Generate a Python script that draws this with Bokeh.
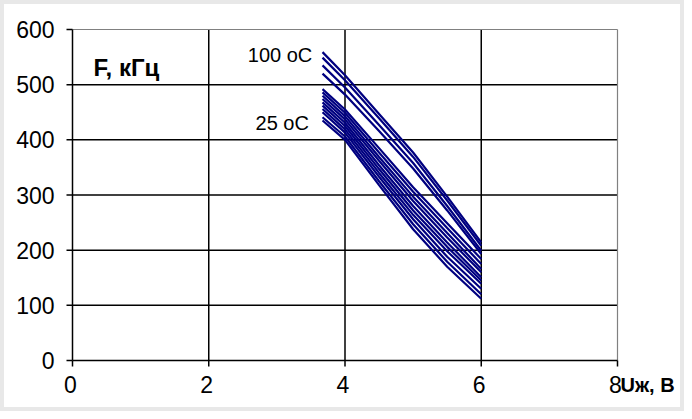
from bokeh.plotting import figure
from bokeh.models import Label, Range1d
from bokeh.core.properties import value
from bokeh.embed import file_html
from bokeh.resources import INLINE

# Control voltage (V) sample points
u_volts = [3.67, 4.0, 4.5, 5.0, 5.5, 6.0]

# Frequency curves (kHz), family from 100 oC (highest) down to 25 oC (lowest)
f_curve_01 = [559, 517, 447, 377, 297, 214]
f_curve_02 = [549, 508, 439, 369, 290, 208]
f_curve_03 = [535, 495, 427, 358, 280, 199]
f_curve_04 = [520, 482, 416, 348, 272, 193]
f_curve_05 = [492, 455, 385, 314, 249, 184]
f_curve_06 = [486, 449, 377, 306, 240, 175]
f_curve_07 = [480, 443, 369, 297, 231, 166]
f_curve_08 = [474, 437, 362, 289, 223, 160]
f_curve_09 = [468, 431, 354, 280, 214, 151]
f_curve_10 = [462, 425, 347, 272, 206, 145]
f_curve_11 = [456, 419, 340, 264, 198, 139]
f_curve_12 = [450, 413, 333, 256, 188, 130]
f_curve_13 = [441, 406, 325, 247, 179, 120]
f_curve_14 = [435, 400, 318, 238, 170, 112]

curves = [f_curve_01, f_curve_02, f_curve_03, f_curve_04, f_curve_05, f_curve_06,
          f_curve_07, f_curve_08, f_curve_09, f_curve_10, f_curve_11, f_curve_12,
          f_curve_13, f_curve_14]

x_ticks = [0, 2, 4, 6, 8]
x_tick_labels = ["0", "2", "4", "6", "8"]
y_ticks = [0, 100, 200, 300, 400, 500, 600]
y_tick_labels = ["0", "100", "200", "300", "400", "500", "600"]
x_grid = [2, 4, 6]
y_grid = [100, 200, 300, 400, 500]

X_MIN, X_MAX = 0, 8
Y_MIN, Y_MAX = 0, 600

FONT = "Liberation Sans"

# Frame fills the whole canvas; axes are drawn with the plot's own scales
PX_X = 68.125      # pixels per volt
PX_Y = 331 / 600   # pixels per kHz
p = figure(width=684, height=411,
           x_range=Range1d(-68 / PX_X, 616 / PX_X),
           y_range=Range1d(-55 / PX_Y, 600 + 25 / PX_Y),
           output_backend="svg", toolbar_location=None,
           x_axis_location=None, y_axis_location=None,
           min_border=0)
p.styles = {"border": "4px solid #e8e8e8"}
p.background_fill_color = "white"
p.border_fill_color = "white"
p.outline_line_color = None
p.grid.visible = False

TX = 6 / PX_X   # tick length in x units
TY = 6 / PX_Y   # tick length in y units

# grid lines
p.segment(x0=x_grid, y0=[Y_MIN] * len(x_grid), x1=x_grid, y1=[Y_MAX] * len(x_grid),
          line_color="black", line_width=1.5)
p.segment(x0=[X_MIN] * len(y_grid), y0=y_grid, x1=[X_MAX] * len(y_grid), y1=y_grid,
          line_color="black", line_width=1.5)

# plot-area border: grey top and right edges
p.segment(x0=[X_MIN], y0=[Y_MAX], x1=[X_MAX], y1=[Y_MAX],
          line_color="#808080", line_width=1.2)
p.segment(x0=[X_MAX], y0=[Y_MIN], x1=[X_MAX], y1=[Y_MAX],
          line_color="#808080", line_width=1.2)

# y axis
p.segment(x0=[X_MIN], y0=[Y_MIN], x1=[X_MIN], y1=[Y_MAX],
          line_color="black", line_width=1.5)
p.segment(x0=[X_MIN] * len(y_ticks), y0=y_ticks, x1=[X_MIN - TX] * len(y_ticks),
          y1=y_ticks, line_color="black", line_width=1.5)
p.text(x=[X_MIN - 18 / PX_X] * len(y_ticks), y=y_ticks, text=y_tick_labels,
       text_align="right", text_baseline="middle",
       text_font=value(FONT), text_font_size="23px", text_color="black")

# x axis
p.segment(x0=[X_MIN], y0=[Y_MIN], x1=[X_MAX], y1=[Y_MIN],
          line_color="black", line_width=1.5)
p.segment(x0=x_ticks, y0=[Y_MIN] * len(x_ticks), x1=x_ticks,
          y1=[Y_MIN - TY] * len(x_ticks), line_color="black", line_width=1.5)
p.text(x=[t - 2 / PX_X for t in x_ticks], y=[Y_MIN - 24 / PX_Y] * len(x_ticks),
       text=x_tick_labels, text_align="center", text_baseline="middle",
       text_font=value(FONT), text_font_size="23px", text_color="black")

for fc in curves:
    p.line(u_volts, fc, line_color="#000080", line_width=2.2)

p.add_layout(Label(x=3.52, y=553, text="100 oC", text_align="right",
                   text_baseline="middle", text_font=FONT,
                   text_font_size="20px", text_color="black"))
p.add_layout(Label(x=3.47, y=430, text="25 oC", text_align="right",
                   text_baseline="middle", text_font=FONT,
                   text_font_size="20px", text_color="black"))
p.add_layout(Label(x=0.31, y=531, text="F, кГц", text_align="left",
                   text_baseline="middle", text_font=FONT,
                   text_font_size="24px", text_font_style="bold",
                   text_color="black"))
p.add_layout(Label(x=X_MAX + 3 / PX_X, y=Y_MIN - 24 / PX_Y, text="Uж, B",
                   text_align="left", text_baseline="middle", text_font=FONT,
                   text_font_size="20px", text_font_style="bold",
                   text_color="black"))

open("out.html", "w").write(file_html(p, INLINE))
